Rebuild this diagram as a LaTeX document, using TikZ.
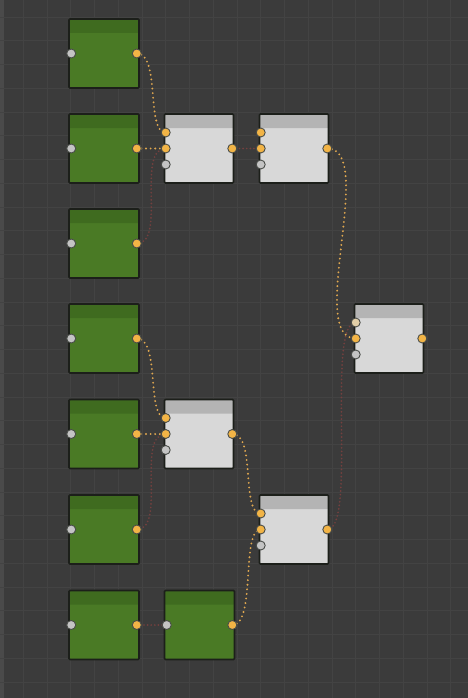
\documentclass[tikz,border=0pt]{standalone}
\usetikzlibrary{calc}
\definecolor{bg}{HTML}{3B3B3B}
\definecolor{gridc}{HTML}{434343}
\definecolor{strip}{HTML}{4A4A4A}
\definecolor{gbody}{HTML}{4A7A25}
\definecolor{ghead}{HTML}{3F6B1F}
\definecolor{wbody}{HTML}{D8D8D8}
\definecolor{whead}{HTML}{B4B4B4}
\definecolor{nodeb}{HTML}{1C1F1A}
\definecolor{porto}{HTML}{F2B446}
\definecolor{portg}{HTML}{C4C4C4}
\definecolor{portp}{HTML}{E2CFA8}
\definecolor{wireo}{HTML}{E0A850}
\definecolor{wirer}{HTML}{74403F}
\begin{document}
\begin{tikzpicture}[x=1pt,y=-1pt,
  gnode/.style={rectangle, draw=nodeb, line width=1.6pt, fill=gbody,
    minimum width=70pt, minimum height=69pt, inner sep=0pt, rounded corners=1pt,
    path picture={\fill[ghead] (path picture bounding box.north west) rectangle ([yshift=-14pt]path picture bounding box.north east);}},
  wnode/.style={rectangle, draw=nodeb, line width=1.6pt, fill=wbody,
    minimum width=69pt, minimum height=69pt, inner sep=0pt, rounded corners=1pt,
    path picture={\fill[whead] (path picture bounding box.north west) rectangle ([yshift=-14pt]path picture bounding box.north east);}},
  portbase/.style={circle, minimum size=9pt, inner sep=0pt, draw=nodeb!80, line width=0.9pt},
  oport/.style={portbase, fill=porto},
  gport/.style={portbase, fill=portg},
  pport/.style={portbase, fill=portp},
  owire/.style={draw=wireo, line width=2.1pt, line cap=round, dash pattern=on 0pt off 4.6pt},
  rwire/.style={draw=wirer, line width=1.9pt, line cap=round, dash pattern=on 0pt off 3.6pt},
]
\fill[bg] (0,0) rectangle (468,698);
\useasboundingbox (0,0) rectangle (468,698);
\fill[strip] (0,0) rectangle (4,698);
\foreach \k in {0,...,19} {\draw[gridc, line width=0.8pt] ({23.25+23.75*\k},0) -- ({23.25+23.75*\k},698);}
\foreach \k in {0,...,29} {\draw[gridc, line width=0.8pt] (0,{17+23.75*\k}) -- (468,{17+23.75*\k});}

% green nodes
\node[gnode] (G1) at (104,53.5) {};
\node[gnode] (G2) at (104,148.5) {};
\node[gnode] (G3) at (104,243.5) {};
\node[gnode] (G4) at (104,338.5) {};
\node[gnode] (G5) at (104,434) {};
\node[gnode] (G6) at (104,529.5) {};
\node[gnode] (G7) at (104,625) {};
\node[gnode] (G8) at (199.5,625) {};
% gray nodes
\node[wnode] (W1) at (199,148.5) {};
\node[wnode] (W2) at (294,148.5) {};
\node[wnode] (W3) at (389,338.5) {};
\node[wnode] (W4) at (199,434) {};
\node[wnode] (W5) at (294,529.5) {};

% port positions
\foreach \n in {G1,G2,G3,G4,G5,G6,G7,G8} {
  \coordinate (\n i) at ($(\n.west)+(3,0)$);
  \coordinate (\n o) at ($(\n.east)+(-3,0)$);
}
\foreach \n in {W1,W2,W3,W4,W5} {
  \coordinate (\n a) at ($(\n.west)+(2,-16)$);
  \coordinate (\n b) at ($(\n.west)+(2,0)$);
  \coordinate (\n c) at ($(\n.west)+(2,16)$);
  \coordinate (\n o) at ($(\n.east)+(-2,0)$);
}

% faint wires
\draw[rwire] (G3o) .. controls +(30,0) and +(-30,0) .. (W1b);
\draw[rwire] (G6o) .. controls +(30,0) and +(-30,0) .. (W4b);
\draw[rwire] (W5o) .. controls +(30,0) and +(-30,0) .. (W3a);
\draw[rwire] (W1o) -- (W2b);
\draw[rwire] (G7o) -- (G8i);

% orange wires
\draw[owire] (G1o) .. controls +(24,0) and +(-20,0) .. (W1a);
\draw[owire] (G2o) -- (W1b);
\draw[owire] (W2o) .. controls +(50,0) and +(-50,0) .. (W3b);
\draw[owire] (G4o) .. controls +(24,0) and +(-20,0) .. (W4a);
\draw[owire] (G5o) -- (W4b);
\draw[owire] (W4o) .. controls +(24,0) and +(-20,0) .. (W5a);
\draw[owire] (G8o) .. controls +(24,0) and +(-20,0) .. (W5b);

% ports
\foreach \n in {G1,G2,G3,G4,G5,G6,G7,G8} {
  \node[gport] (\n ip) at (\n i) {};
  \node[oport] (\n op) at (\n o) {};
}
\foreach \n in {W1,W2,W4,W5} {
  \node[oport] (\n ap) at (\n a) {};
  \node[oport] (\n bp) at (\n b) {};
  \node[gport] (\n cp) at (\n c) {};
  \node[oport] (\n op) at (\n o) {};
}
\node[pport] (W3ap) at (W3a) {};
\node[oport] (W3bp) at (W3b) {};
\node[gport] (W3cp) at (W3c) {};
\node[oport] (W3op) at (W3o) {};
\end{tikzpicture}
\end{document}
